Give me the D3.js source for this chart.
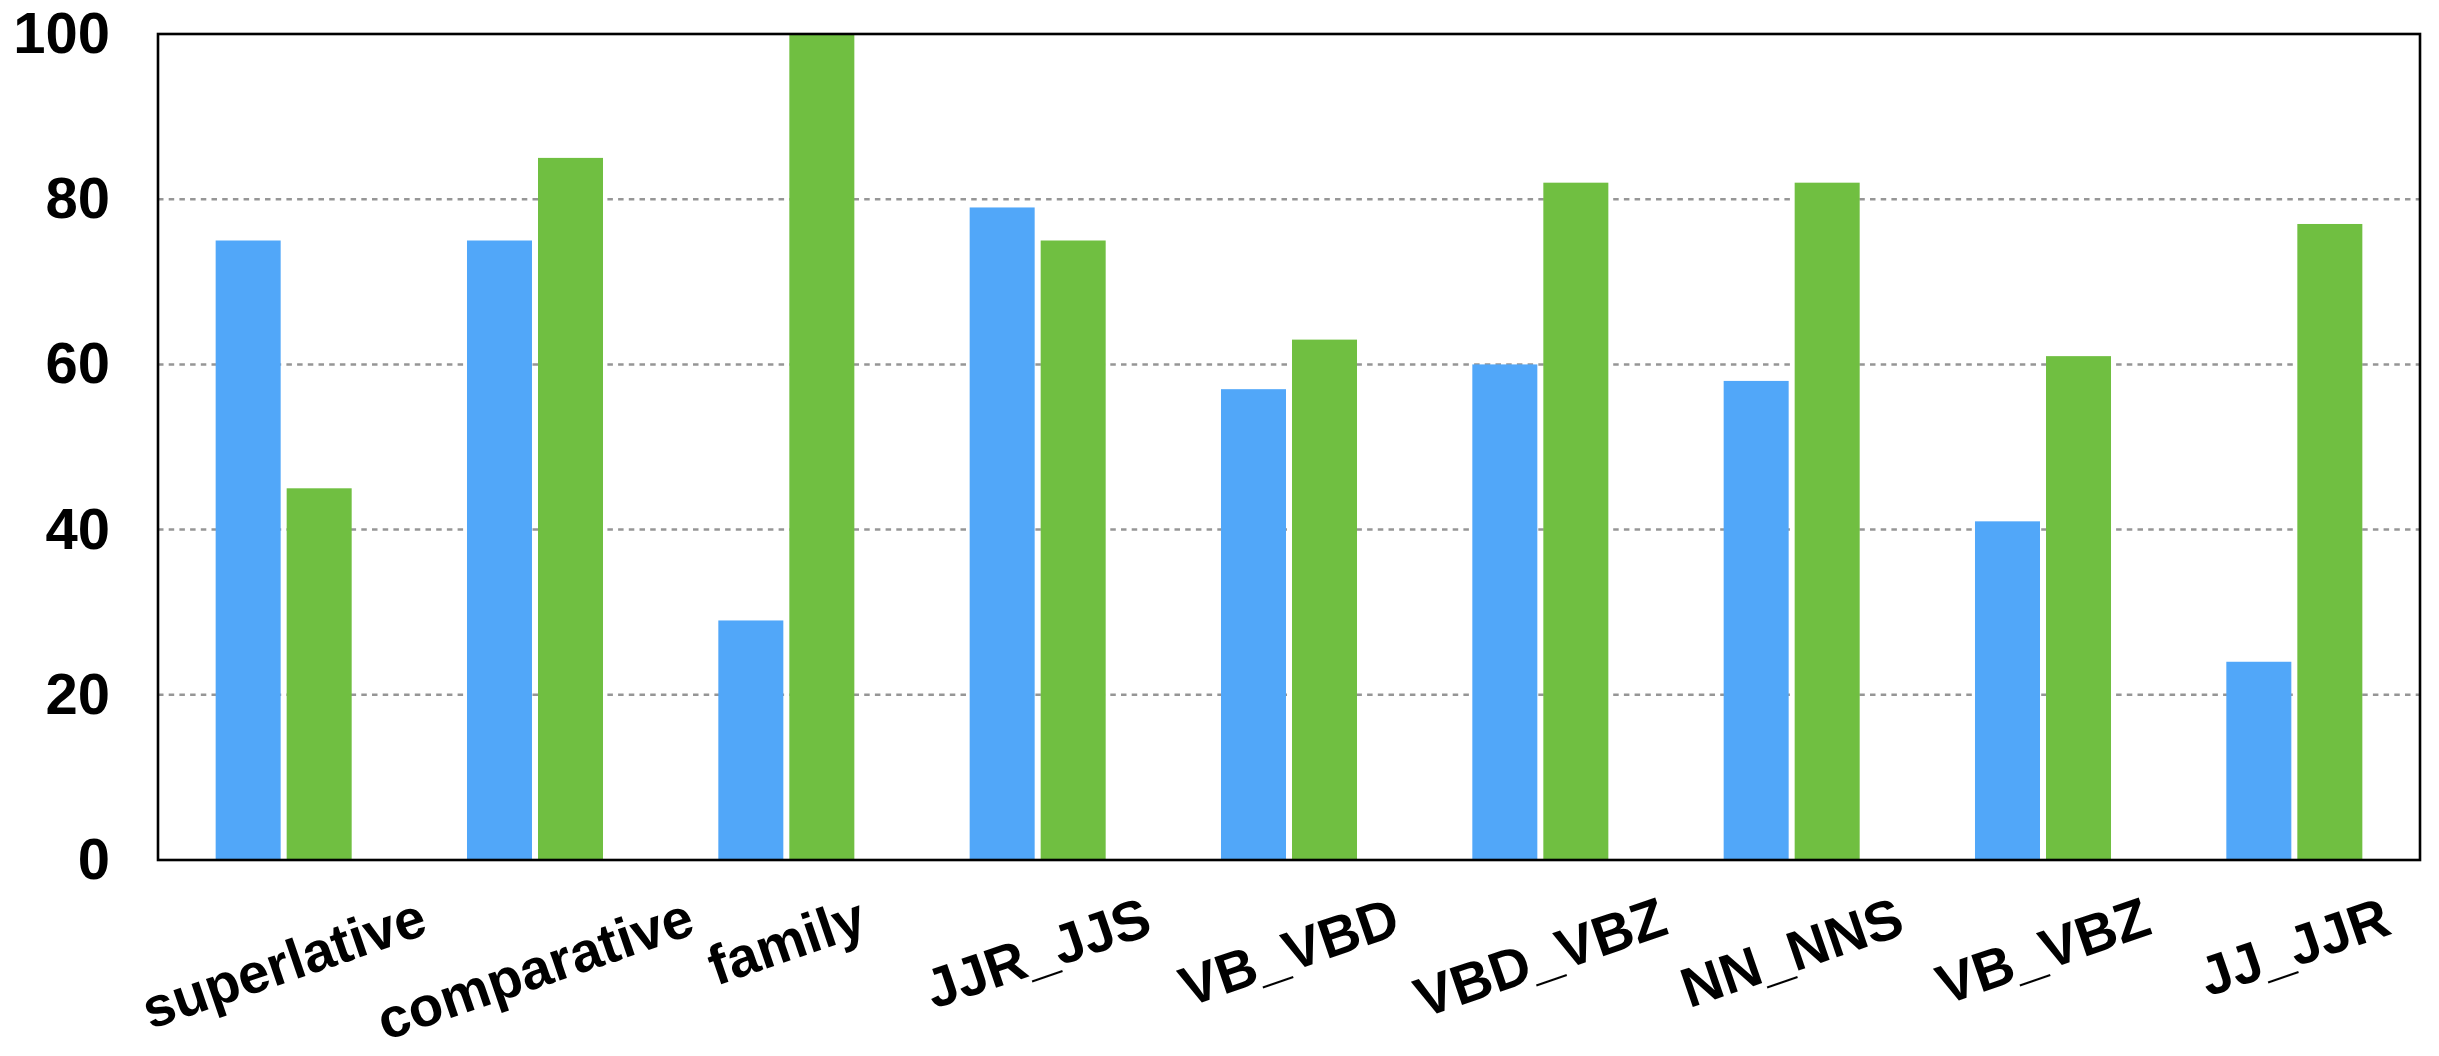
<!DOCTYPE html>
<html>
<head>
<meta charset="utf-8">
<script src="https://cdn.jsdelivr.net/npm/d3@7"></script>
<style>
  html, body { margin: 0; padding: 0; background: #fff; }
  svg { display: block; }
  text { font-family: "Liberation Sans", Arial, Helvetica, sans-serif; font-weight: bold; fill: #000; }
</style>
</head>
<body>
<svg id="chart" width="2439" height="1056"></svg>
<script>
// Categories on the x axis
const categories = ["superlative", "comparative", "family", "JJR_JJS", "VB_VBD",
                    "VBD_VBZ", "NN_NNS", "VB_VBZ", "JJ_JJR"];
// Two series, one value per category
const seriesNames = ["blue", "green"];
const blueValues  = [75, 75, 29, 79, 57, 60, 58, 41, 24];
const greenValues = [45, 85, 100, 75, 63, 82, 82, 61, 77];
// Y-axis tick values
const yTicks = [0, 20, 40, 60, 80, 100];
const gridTicks = [20, 40, 60, 80];

const colors = { blue: "#51A7F9", green: "#70BF41" };

const svg = d3.select("#chart");
const plot = { left: 158, right: 2420, top: 34, bottom: 860 };

const x0 = d3.scaleBand()
  .domain(categories)
  .range([plot.left, plot.right])
  .paddingInner(0)
  .paddingOuter(0);

// bars of 65px with a 6px gap inside each 251px band
const x1 = d3.scaleBand()
  .domain(seriesNames)
  .range([0, x0.bandwidth()])
  .paddingInner(0.0845)
  .paddingOuter(0.812);

const y = d3.scaleLinear().domain([0, 100]).range([plot.bottom, plot.top]);

const rows = categories.map((c, i) => ({
  category: c,
  values: [
    { key: "blue", value: blueValues[i] },
    { key: "green", value: greenValues[i] }
  ]
}));

// dashed horizontal gridlines
svg.append("g")
  .selectAll("line")
  .data(gridTicks)
  .join("line")
  .attr("x1", plot.left)
  .attr("x2", plot.right)
  .attr("y1", d => y(d))
  .attr("y2", d => y(d))
  .attr("stroke", "#969696")
  .attr("stroke-width", 2.5)
  .attr("stroke-dasharray", "5.5,5.2");

// grouped bars
svg.append("g")
  .selectAll("g")
  .data(rows)
  .join("g")
  .attr("transform", d => `translate(${x0(d.category)},0)`)
  .selectAll("rect")
  .data(d => d.values)
  .join("rect")
  .attr("x", d => x1(d.key))
  .attr("width", x1.bandwidth())
  .attr("y", d => y(d.value))
  .attr("height", d => y(0) - y(d.value))
  .attr("fill", d => colors[d.key]);

// plot frame
svg.append("rect")
  .attr("x", plot.left)
  .attr("y", plot.top)
  .attr("width", plot.right - plot.left)
  .attr("height", plot.bottom - plot.top)
  .attr("fill", "none")
  .attr("stroke", "#000")
  .attr("stroke-width", 2.6);

// y axis labels
const yAxis = d3.axisLeft(y).tickValues(yTicks).tickSize(0).tickPadding(48);
const yg = svg.append("g")
  .attr("transform", `translate(${plot.left},0)`)
  .call(yAxis);
yg.select(".domain").remove();
yg.selectAll("text")
  .attr("font-size", 58)
  .attr("font-family", "'Liberation Sans', Arial, sans-serif")
  .attr("font-weight", "bold")
  .attr("fill", "#000");

// x axis labels, rotated and placed so their rotated box hangs below the axis
const angle = -19;
const labelTop = 885;
const xg = svg.append("g");
xg.selectAll("g")
  .data(categories)
  .join("g")
  .each(function (d) {
    const g = d3.select(this);
    const cx = x0(d) + x0.bandwidth() / 2;
    const t = g.append("text")
      .attr("text-anchor", "middle")
      .attr("dominant-baseline", "central")
      .attr("font-size", 56)
      .attr("transform", `rotate(${angle})`)
      .text(d);
    const bb = t.node().getBBox();
    const rad = Math.abs(angle) * Math.PI / 180;
    const h = bb.width * Math.sin(rad) + bb.height * Math.cos(rad);
    g.attr("transform", `translate(${cx},${labelTop + h / 2})`);
  });
</script>
</body>
</html>
